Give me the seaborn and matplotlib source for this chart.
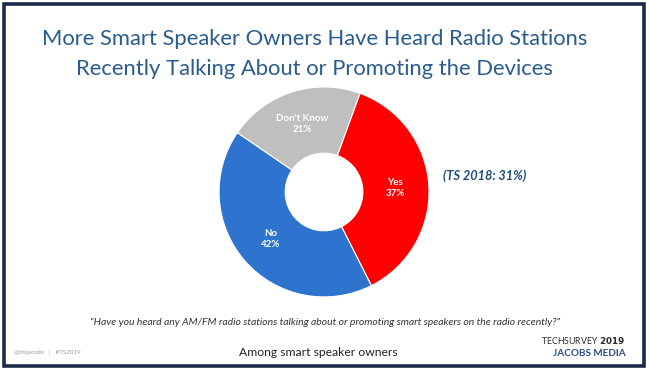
import matplotlib
matplotlib.use('Agg')
import matplotlib.pyplot as plt
import seaborn as sns
from matplotlib.patches import Rectangle

sns.set_theme(style='white')
plt.rcParams['font.family'] = ['Lato', 'DejaVu Sans']

# ---------------------------------------- data ----------------------------------------
answers = ['Yes', 'No', "Don't Know"]
shares = [37, 42, 21]
colors = ['#FF0000', '#2E74CF', '#BFBFBF']

title = ('More Smart Speaker Owners Have Heard Radio Stations\n'
         'Recently Talking About or Promoting the Devices')
question = ('"Have you heard any AM/FM radio stations talking about or promoting '
            'smart speakers on the radio recently?"')
base_note = 'Among smart speaker owners'
last_year = '(TS 2018: 31%)'

# ---------------------------------------- figure ----------------------------------------
fig = plt.figure(figsize=(6.5, 3.72), dpi=100)
fig.patch.set_facecolor('white')

# slide frame
fig.patches.append(Rectangle((0.006, 0.016), 0.984, 0.974, transform=fig.transFigure,
                             fill=False, edgecolor='#1C2B4C', linewidth=2.6))

fig.text(0.484, 0.855, title, ha='center', va='center', color='#2A5C8E',
         fontsize=15.8, linespacing=1.6)

# donut
ax = fig.add_axes([0.4985 - 0.1615, 0.484 - 0.2823, 0.323, 0.5646])
labels = [f'{a}\n{s}%' for a, s in zip(answers, shares)]
wedges, texts = ax.pie(shares, colors=colors, labels=labels, startangle=70,
                       counterclock=False, radius=1.0, labeldistance=0.68,
                       wedgeprops=dict(width=0.63, edgecolor='white', linewidth=0.8),
                       textprops=dict(color='white', fontsize=7, fontweight='bold'))
for t in texts:
    t.set_ha('center')
    t.set_va('center')
    t.set_linespacing(1.3)
ax.set_xlim(-1.0, 1.0)
ax.set_ylim(-1.0, 1.0)
ax.set_aspect('equal')
ax.axis('off')

fig.text(0.682, 0.527, last_year, ha='left', va='center', color='#1F4E79',
         fontsize=9.2, fontweight='bold', style='italic')

fig.text(0.5, 0.133, question, ha='center', va='center', color='#333333',
         fontsize=7.5, style='italic')
fig.text(0.49, 0.053, base_note, ha='center', va='center', color='#222222', fontsize=8.7)
fig.text(0.022, 0.053, '@fmjacobs   |   #TS2019', ha='left', va='center',
         color='#9A9A9A', fontsize=4.5)

fig.text(0.962, 0.085, 'TECHSURVEY $\\bf{2019}$', ha='right', va='center',
         color='#2B2B2B', fontsize=6.3)
fig.text(0.962, 0.05, 'JACOBS MEDIA', ha='right', va='center', color='#2A4E86',
         fontsize=7.2, fontweight='bold')

fig.savefig('out.png', dpi=100)
